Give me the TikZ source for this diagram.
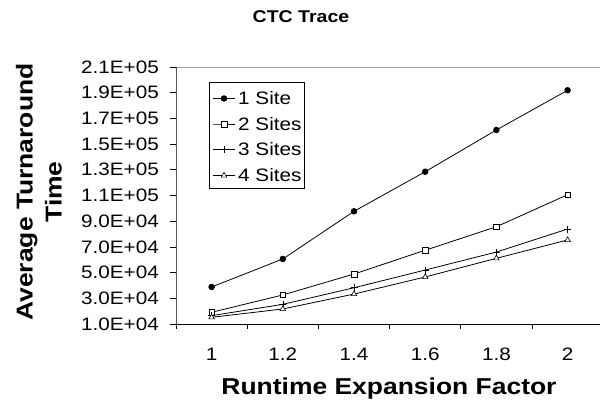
\documentclass[tikz,border=0pt]{standalone}
\usepackage{fontspec}
\setmainfont{Liberation Sans}[FakeStretch=1.15]
\usetikzlibrary{plotmarks}

\tikzset{
    ticklabel/.style={font=\fontsize{18}{18}\selectfont, inner sep=0pt},
    axistitle/.style={font=\fontsize{23}{29}\selectfont\bfseries, inner sep=0pt},
    series/.style={black, line width=0.8pt, mark options={solid, fill=white, line width=0.6pt}},
    site1/.style={series, mark=*, mark size=2.8pt, mark options={fill=black}},
    site2/.style={series, mark=square*, mark size=2.8pt},
    site3/.style={series, mark=+, mark size=3.5pt},
    site4/.style={series, mark=triangle*, mark size=3.2pt},
}

\begin{document}
\begin{tikzpicture}[x=1pt, y=-1pt]

\useasboundingbox (0,0) rectangle (600,407);

    \node[font=\fontsize{17}{17}\selectfont\bfseries, inner sep=0pt] (title) at (301,17) {CTC Trace};
    \node[axistitle, rotate=90, align=center] (ytitle) at (39,192) {Average Turnaround\\Time};
    \node[axistitle] (xtitle) at (389,389) {Runtime Expansion Factor};

\begin{scope}[shift={(176,324)}, x=71.2pt, y=12.85pt]
    \draw[gray!70, line width=0.8pt] (0,20) -- (6.2,20); % top of plot area
    \draw[line width=0.8pt] (0,0) -- (6.2,0); % x axis
    \draw[line width=0.8pt] (0,20) -- (0,0) -- ++(0,-5pt); % y axis

    % y ticks and labels
    \foreach \v/\lab in {0/1.0E+04, 2/3.0E+04, 4/5.0E+04, 6/7.0E+04, 8/9.0E+04,
                         10/1.1E+05, 12/1.3E+05, 14/1.5E+05, 16/1.7E+05, 18/1.9E+05, 20/2.1E+05}{
        \draw[line width=0.8pt] (0,\v) -- ++(-6pt,0);
        \node[ticklabel, anchor=east] (yl\v) at ([xshift=-17pt]0,\v) {\lab};
    }

    % x ticks and labels
    \foreach \i/\lab in {0/1, 1/1.2, 2/1.4, 3/1.6, 4/1.8, 5/2}{
        \draw[line width=0.8pt] (\i+1,0) -- ++(0,-5pt);
        \node[ticklabel] (xl\i) at ([yshift=-30pt]\i+0.5,0) {\lab};
    }

    % data
    \draw[site1] plot coordinates {(0.5,2.88) (1.5,5.06) (2.5,8.77) (3.5,11.85) (4.5,15.10) (5.5,18.19)}; % 1 site
    \draw[site2] plot coordinates {(0.5,0.91) (1.5,2.26) (2.5,3.89) (3.5,5.74) (4.5,7.57) (5.5,10.06)}; % 2 sites
    \draw[site3] plot coordinates {(0.5,0.65) (1.5,1.53) (2.5,2.82) (3.5,4.20) (4.5,5.60) (5.5,7.39)}; % 3 sites
    \draw[site4] plot coordinates {(0.5,0.52) (1.5,1.17) (2.5,2.33) (3.5,3.66) (4.5,5.11) (5.5,6.54)}; % 4 sites
\end{scope}

    % legend
    \node[draw, line width=0.8pt, minimum width=95pt, minimum height=106pt, inner sep=0pt] (legend) at (256.5,135) {};

    \draw[site1, mark indices={2}] plot coordinates {(213,98.5) (224,98.5) (235,98.5)};
    \draw[site2, mark indices={2}] plot coordinates {(213,124) (224,124) (235,124)};
    \draw[site3, mark indices={2}] plot coordinates {(213,149.5) (224,149.5) (235,149.5)};
    \draw[site4, mark indices={2}] plot coordinates {(213,175.5) (224,175.5) (235,175.5)};

    \node[ticklabel, anchor=west] (l1) at (238,98.5) {1 Site};
    \node[ticklabel, anchor=west] (l2) at (238,124) {2 Sites};
    \node[ticklabel, anchor=west] (l3) at (238,149.5) {3 Sites};
    \node[ticklabel, anchor=west] (l4) at (238,175.5) {4 Sites};

\end{tikzpicture}
\end{document}
